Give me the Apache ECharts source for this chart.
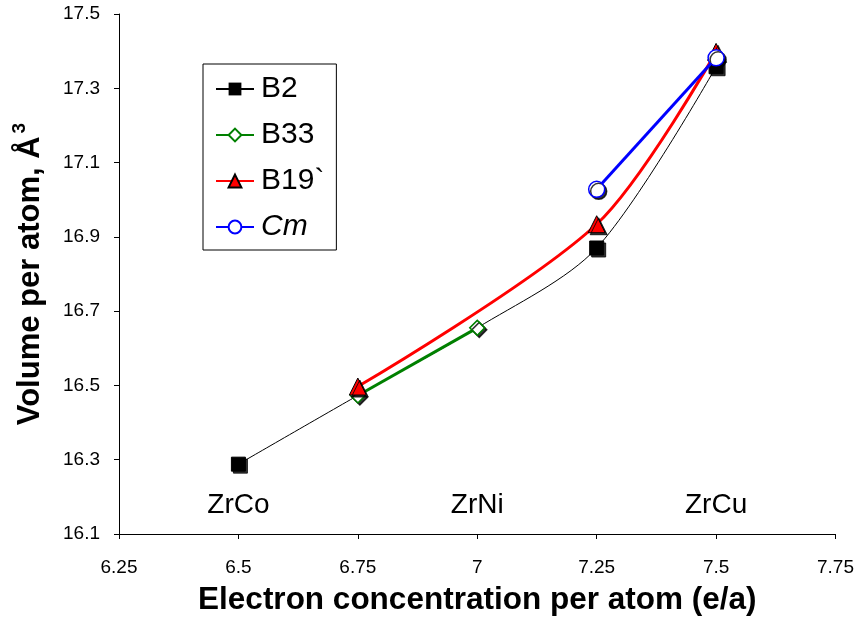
<!DOCTYPE html>
<html>
<head>
<meta charset="utf-8">
<script src="https://cdn.jsdelivr.net/npm/echarts@6/dist/echarts.min.js"></script>
<style>
  html, body { margin: 0; padding: 0; background: #fff; }
  #chart { width: 857px; height: 621px; }
</style>
</head>
<body>
<div id="chart"></div>
<script>
// electron concentration (e/a) vs volume per atom
const b2X = [6.5, 6.75, 7.0, 7.25, 7.5];
const b2Y = [16.288, 16.473, 16.655, 16.87, 17.358];
const b2Marked = [true, false, false, true, true]; // diamonds sit on the line at 6.75 and 7
const b33X = [6.75, 7.0];
const b33Y = [16.473, 16.655];
const b19X = [6.75, 7.25, 7.5];
const b19Y = [16.497, 16.934, 17.398];
const cmX = [7.25, 7.5];
const cmY = [17.028, 17.382];
const compoundNames = ['ZrCo', 'ZrNi', 'ZrCu'];
const compoundX = [6.5, 7.0, 7.5];
const compoundY = [16.178, 16.178, 16.178];
const yTicks = [16.1, 16.3, 16.5, 16.7, 16.9, 17.1, 17.3, 17.5];

const font = 'Arial, "Liberation Sans", sans-serif';
const pairs = (xs, ys) => xs.map((x, i) => [x, ys[i]]);
const shadow = { shadowColor: 'rgba(0,0,0,0.8)', shadowOffsetX: 2, shadowOffsetY: 2, shadowBlur: 0 };

const chart = echarts.init(document.getElementById('chart'));
chart.setOption({
  animation: false,
  grid: { left: 119, right: 21, top: 14, bottom: 85 },
  legend: {
    orient: 'vertical',
    left: 203,
    top: 64,
    padding: [8, 12, 6, 12],
    itemGap: 12,
    itemWidth: 38,
    itemHeight: 16,
    borderColor: '#000',
    borderWidth: 1,
    backgroundColor: '#fff',
    data: ['B2', 'B33', 'B19`', 'Cm'],
    formatter: name => (name === 'Cm' ? '{i|Cm}' : name),
    textStyle: {
      fontFamily: font, fontSize: 30, color: '#000', lineHeight: 34, padding: [0, 0, 0, 2],
      rich: { i: { fontFamily: font, fontSize: 30, fontStyle: 'italic', color: '#000', lineHeight: 34 } }
    }
  },
  xAxis: {
    type: 'value',
    min: 6.25,
    max: 7.75,
    interval: 0.25,
    name: 'Electron concentration per atom (e/a)',
    nameLocation: 'middle',
    nameGap: 50,
    nameTextStyle: { fontFamily: font, fontSize: 31.5, fontWeight: 'bold', color: '#000' },
    axisLine: { lineStyle: { color: '#000', width: 1 } },
    axisTick: { inside: false, length: 5, lineStyle: { color: '#000' } },
    axisLabel: { fontFamily: font, fontSize: 19, color: '#000', margin: 24 },
    splitLine: { show: false }
  },
  yAxis: {
    type: 'value',
    min: 16.1,
    max: 17.5,
    name: '{t|Volume per atom, Å}{s|3}',
    nameLocation: 'middle',
    nameGap: 73,
    nameTextStyle: {
      fontFamily: font, fontSize: 31, fontWeight: 'bold', color: '#000',
      rich: {
        t: { fontFamily: font, fontSize: 31, fontWeight: 'bold', color: '#000', lineHeight: 36, verticalAlign: 'bottom' },
        s: { fontFamily: font, fontSize: 19, fontWeight: 'bold', color: '#000', lineHeight: 36, verticalAlign: 'top', padding: [0, 0, 0, 3] }
      }
    },
    axisLine: { show: true, lineStyle: { color: '#000', width: 1 } },
    axisTick: { show: true, length: 5, customValues: yTicks, lineStyle: { color: '#000' } },
    axisLabel: {
      fontFamily: font, fontSize: 19, color: '#000', margin: 19,
      customValues: yTicks,
      formatter: v => v.toFixed(1)
    },
    splitLine: { show: false }
  },
  series: [
    {
      name: 'B2',
      type: 'line',
      smooth: 0.3,
      data: pairs(b2X, b2Y).map((p, i) => (b2Marked[i] ? p : { value: p, symbol: 'none' })),
      symbol: 'rect',
      symbolSize: 14,
      showAllSymbol: true,
      lineStyle: { color: '#000', width: 1 },
      itemStyle: Object.assign({ color: '#000', borderColor: '#000' }, shadow),
      z: 2
    },
    {
      name: 'B33',
      type: 'line',
      data: pairs(b33X, b33Y),
      symbol: 'diamond',
      symbolSize: 15,
      lineStyle: { color: '#008000', width: 3 },
      itemStyle: Object.assign({ color: '#fff', borderColor: '#008000', borderWidth: 1.5 }, shadow),
      z: 3
    },
    {
      name: 'B19`',
      type: 'line',
      smooth: 0.3,
      data: pairs(b19X, b19Y),
      symbol: 'triangle',
      symbolSize: 17,
      lineStyle: { color: '#ff0000', width: 3 },
      itemStyle: Object.assign({ color: '#ff0000', borderColor: '#000', borderWidth: 1 }, shadow),
      z: 4
    },
    {
      name: 'Cm',
      type: 'line',
      data: pairs(cmX, cmY),
      symbol: 'circle',
      symbolSize: 16,
      lineStyle: { color: '#0000ff', width: 3 },
      itemStyle: Object.assign({ color: '#fff', borderColor: '#0000ff', borderWidth: 1.5 }, shadow),
      z: 5
    },
    {
      name: 'labels',
      type: 'scatter',
      symbol: 'circle',
      symbolSize: 2,
      silent: true,
      itemStyle: { color: 'rgba(0,0,0,0)', opacity: 1 },
      data: compoundX.map((x, i) => ({ value: [x, compoundY[i]], name: compoundNames[i] })),
      label: {
        show: true,
        position: 'inside',
        formatter: p => p.name,
        fontFamily: font,
        fontSize: 28,
        color: '#000'
      },
      labelLayout: { hideOverlap: false },
      z: 1
    }
  ]
});
</script>
</body>
</html>
